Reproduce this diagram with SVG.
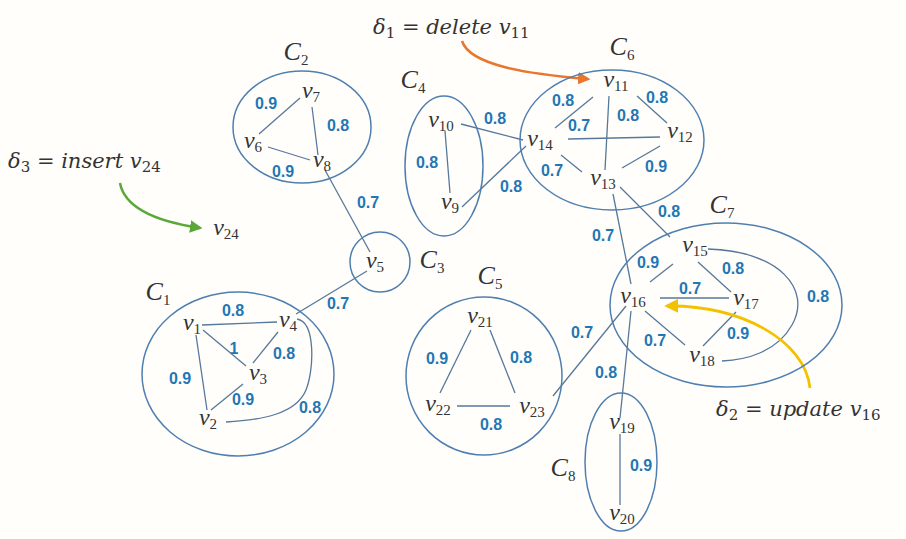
<svg xmlns="http://www.w3.org/2000/svg" width="906" height="539" viewBox="0 0 906 539">
<defs>
<style>
.cl{fill:none;stroke:#4f7fb0;stroke-width:1.5}
.e{fill:none;stroke:#56789c;stroke-width:1.3}
.v{font-family:"Liberation Serif",serif;font-style:italic;font-size:24px;fill:#333;text-anchor:middle}
.s{font-size:15px;font-style:normal}
.w{font-family:"Liberation Sans",Arial,sans-serif;font-weight:bold;font-size:16px;fill:#1f77b4;text-anchor:middle}
.c{font-family:"Liberation Serif",serif;font-style:italic;font-size:26px;fill:#333;text-anchor:middle}
.d{font-family:"DejaVu Serif",serif;font-style:italic;font-size:21px;fill:#333}
</style>
<marker id="ao" viewBox="0 0 10 10" refX="8" refY="5" markerWidth="5" markerHeight="5" orient="auto"><path d="M0,0L10,5L0,10z" fill="#e8762c"/></marker>
<marker id="ag" viewBox="0 0 10 10" refX="8" refY="5" markerWidth="5" markerHeight="5" orient="auto"><path d="M0,0L10,5L0,10z" fill="#5aa83a"/></marker>
<marker id="ay" viewBox="0 0 10 10" refX="8" refY="5" markerWidth="5" markerHeight="5" orient="auto"><path d="M0,0L10,5L0,10z" fill="#f2c200"/></marker>
</defs>
<rect width="906" height="539" fill="#fffefb"/>
<g id="connectors">
<line class="e" x1="202" y1="325" x2="277" y2="322"/>
<line class="e" x1="203" y1="330" x2="246" y2="366"/>
<line class="e" x1="278" y1="332" x2="253" y2="363"/>
<line class="e" x1="196" y1="335" x2="207" y2="410"/>
<line class="e" x1="211" y1="410" x2="243" y2="384"/>
<path class="e" d="M297 319 C316 322 314 370 306 390 C296 414 262 420 226 422"/>
<line class="e" x1="296" y1="314" x2="367" y2="271"/>
<line class="e" x1="300" y1="98" x2="259" y2="134"/>
<line class="e" x1="312" y1="107" x2="318" y2="155"/>
<line class="e" x1="268" y1="147" x2="310" y2="160"/>
<line class="e" x1="325" y1="170" x2="370" y2="252"/>
<line class="e" x1="445" y1="131" x2="450" y2="193"/>
<line class="e" x1="461" y1="124" x2="523" y2="140"/>
<line class="e" x1="462" y1="207" x2="526" y2="146"/>
<line class="e" x1="555" y1="128" x2="593" y2="97"/>
<line class="e" x1="609" y1="96" x2="605" y2="170"/>
<line class="e" x1="637" y1="96" x2="667" y2="123"/>
<line class="e" x1="568" y1="139" x2="660" y2="137"/>
<line class="e" x1="561" y1="155" x2="582" y2="172"/>
<line class="e" x1="660" y1="146" x2="622" y2="168"/>
<line class="e" x1="613" y1="194" x2="631" y2="284"/>
<line class="e" x1="620" y1="187" x2="670" y2="237"/>
<line class="e" x1="650" y1="282" x2="673" y2="264"/>
<line class="e" x1="698" y1="262" x2="731" y2="292"/>
<line class="e" x1="660" y1="298" x2="729" y2="298"/>
<line class="e" x1="645" y1="311" x2="685" y2="345"/>
<line class="e" x1="736" y1="312" x2="703" y2="346"/>
<path class="e" d="M708 249 C780 251 812 290 792 325 C777 352 746 360 722 361"/>
<line class="e" x1="626" y1="306" x2="553" y2="396"/>
<line class="e" x1="631" y1="311" x2="620" y2="418"/>
<line class="e" x1="471" y1="330" x2="440" y2="393"/>
<line class="e" x1="490" y1="330" x2="515" y2="393"/>
<line class="e" x1="457" y1="406" x2="510" y2="406"/>
<line class="e" x1="620" y1="434" x2="620" y2="505"/>
<path d="M462 41 C470 66 530 74 588 79" fill="none" stroke="#e8762c" stroke-width="2.5" marker-end="url(#ao)"/>
<path d="M120 183 C125 210 160 222 200 228" fill="none" stroke="#5aa83a" stroke-width="2.5" marker-end="url(#ag)"/>
<path d="M810 388 C805 340 740 305 667 306" fill="none" stroke="#f2c200" stroke-width="2.8" marker-end="url(#ay)"/>
</g>
<g id="C1">
<ellipse class="cl" cx="238" cy="374" rx="96" ry="82"/>
<text class="c" x="158" y="300">C<tspan class="s" dy="5">1</tspan></text>
<text class="v" x="192" y="330">v<tspan class="s" dy="4">1</tspan></text>
<text class="v" x="288" y="327">v<tspan class="s" dy="4">4</tspan></text>
<text class="v" x="258" y="380">v<tspan class="s" dy="4">3</tspan></text>
<text class="v" x="208" y="425">v<tspan class="s" dy="4">2</tspan></text>
<text class="w" x="233" y="316">0.8</text>
<text class="w" x="234" y="354">1</text>
<text class="w" x="284" y="359">0.8</text>
<text class="w" x="180" y="384">0.9</text>
<text class="w" x="243" y="405">0.9</text>
<text class="w" x="310" y="413">0.8</text>
<text class="w" x="338" y="309">0.7</text>
</g>
<g id="C2">
<ellipse class="cl" cx="302" cy="127" rx="69" ry="56"/>
<text class="c" x="296" y="60">C<tspan class="s" dy="5">2</tspan></text>
<text class="v" x="311" y="98">v<tspan class="s" dy="4">7</tspan></text>
<text class="v" x="253" y="148">v<tspan class="s" dy="4">6</tspan></text>
<text class="v" x="322" y="167">v<tspan class="s" dy="4">8</tspan></text>
<text class="w" x="266" y="109">0.9</text>
<text class="w" x="338" y="131">0.8</text>
<text class="w" x="283" y="177">0.9</text>
<text class="w" x="368" y="208">0.7</text>
</g>
<g id="C3">
<circle class="cl" cx="380" cy="262" r="30"/>
<text class="v" x="375" y="268">v<tspan class="s" dy="4">5</tspan></text>
<text class="c" x="432" y="268">C<tspan class="s" dy="5">3</tspan></text>
</g>
<g id="C4">
<ellipse class="cl" cx="444" cy="166" rx="39" ry="70"/>
<text class="c" x="413" y="88">C<tspan class="s" dy="5">4</tspan></text>
<text class="v" x="441" y="127">v<tspan class="s" dy="4">10</tspan></text>
<text class="v" x="450" y="209">v<tspan class="s" dy="4">9</tspan></text>
<text class="w" x="427" y="168">0.8</text>
<text class="w" x="495" y="124">0.8</text>
<text class="w" x="511" y="192">0.8</text>
</g>
<g id="C6">
<ellipse class="cl" cx="612" cy="140" rx="92" ry="70"/>
<text class="c" x="622" y="55">C<tspan class="s" dy="5">6</tspan></text>
<text class="v" x="616" y="87">v<tspan class="s" dy="4">11</tspan></text>
<text class="v" x="540" y="146">v<tspan class="s" dy="4">14</tspan></text>
<text class="v" x="680" y="138">v<tspan class="s" dy="4">12</tspan></text>
<text class="v" x="603" y="185">v<tspan class="s" dy="4">13</tspan></text>
<text class="w" x="563" y="106">0.8</text>
<text class="w" x="579" y="131">0.7</text>
<text class="w" x="628" y="121">0.8</text>
<text class="w" x="657" y="103">0.8</text>
<text class="w" x="656" y="172">0.9</text>
<text class="w" x="552" y="176">0.7</text>
<text class="w" x="603" y="241">0.7</text>
<text class="w" x="669" y="217">0.8</text>
</g>
<g id="C7">
<ellipse class="cl" cx="726" cy="305" rx="116" ry="82"/>
<text class="c" x="722" y="213">C<tspan class="s" dy="5">7</tspan></text>
<text class="v" x="695" y="252">v<tspan class="s" dy="4">15</tspan></text>
<text class="v" x="633" y="303">v<tspan class="s" dy="4">16</tspan></text>
<text class="v" x="746" y="305">v<tspan class="s" dy="4">17</tspan></text>
<text class="v" x="702" y="362">v<tspan class="s" dy="4">18</tspan></text>
<text class="w" x="648" y="268">0.9</text>
<text class="w" x="733" y="274">0.8</text>
<text class="w" x="690" y="294">0.7</text>
<text class="w" x="655" y="346">0.7</text>
<text class="w" x="738" y="339">0.9</text>
<text class="w" x="818" y="302">0.8</text>
<text class="w" x="582" y="338">0.7</text>
<text class="w" x="606" y="378">0.8</text>
</g>
<g id="C5">
<ellipse class="cl" cx="484" cy="376" rx="78" ry="79"/>
<text class="c" x="490" y="284">C<tspan class="s" dy="5">5</tspan></text>
<text class="v" x="480" y="323">v<tspan class="s" dy="4">21</tspan></text>
<text class="v" x="438" y="411">v<tspan class="s" dy="4">22</tspan></text>
<text class="v" x="532" y="413">v<tspan class="s" dy="4">23</tspan></text>
<text class="w" x="437" y="364">0.9</text>
<text class="w" x="521" y="363">0.8</text>
<text class="w" x="491" y="430">0.8</text>
</g>
<g id="C8">
<ellipse class="cl" cx="621" cy="462" rx="36" ry="69"/>
<text class="c" x="563" y="476">C<tspan class="s" dy="5">8</tspan></text>
<text class="v" x="622" y="429">v<tspan class="s" dy="4">19</tspan></text>
<text class="v" x="622" y="520">v<tspan class="s" dy="4">20</tspan></text>
<text class="w" x="641" y="471">0.9</text>
</g>
<g id="v24">
<text class="v" x="226" y="235">v<tspan class="s" dy="4">24</tspan></text>
</g>
<g id="annotations">
<text class="d" x="373" y="34">δ<tspan class="s" dy="4">1</tspan><tspan dy="-4" font-style="normal"> = </tspan>delete v<tspan class="s" dy="4">11</tspan></text>
<text class="d" x="8" y="168">δ<tspan class="s" dy="4">3</tspan><tspan dy="-4" font-style="normal"> = </tspan>insert v<tspan class="s" dy="4">24</tspan></text>
<text class="d" x="716" y="416">δ<tspan class="s" dy="4">2</tspan><tspan dy="-4" font-style="normal"> = </tspan>update v<tspan class="s" dy="4">16</tspan></text>
</g>
</svg>
